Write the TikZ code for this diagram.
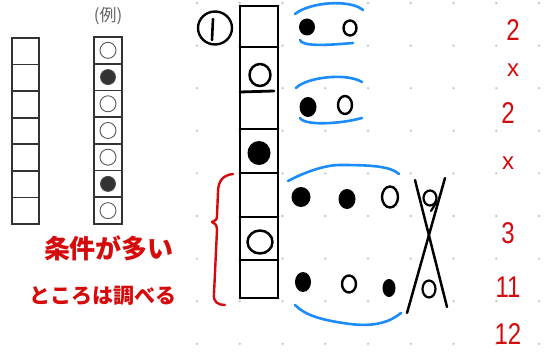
\documentclass[tikz,border=0pt]{standalone}
\usepackage{fontspec}
\usetikzlibrary{shapes.geometric}
\setmainfont{Liberation Sans}
\newfontfamily\cjk{Noto Sans CJK JP}
\definecolor{inkred}{RGB}{214,10,10}
\definecolor{inkblue}{RGB}{28,140,250}
\tikzset{
  gridpt/.style={fill=black!22},
  scanline/.style={draw=black!80, line width=1.6pt},
  exopen/.style={draw=black!65, line width=0.9pt},
  exfill/.style={fill=black!80, draw=black!70, line width=0.9pt},
  ink/.style={draw=black, line width=2.8pt, line cap=round, line join=round},
  inkdot/.style={fill=black},
  blueink/.style={draw=inkblue, line width=2.6pt, line cap=round},
  redink/.style={draw=inkred, line width=2.4pt, line cap=round, line join=round},
  rednum/.style={text=inkred, font=\fontsize{30}{30}\selectfont, inner sep=0pt, xscale=0.8},
  redx/.style={text=inkred, font=\fontsize{24}{24}\selectfont, inner sep=0pt},
  jtext/.style={text=inkred, inner sep=0pt}
}
\begin{document}
\begin{tikzpicture}[x=1pt,y=-1pt]
\useasboundingbox (0,0) rectangle (550,353);
\fill[white] (0,0) rectangle (550,353);
% dot grid
\foreach \i in {0,...,8}
  \foreach \j in {0,...,8}
    \fill[gridpt] ({197+42.75*\i},{3+42.6*\j}) circle (1.3pt);
% left empty column
\draw[scanline] (12,38) rectangle (39,224);
\foreach \k in {1,...,6}
  \draw[scanline] (12,{38+26.57*\k}) -- (39,{38+26.57*\k});
% example column
\node[text=black!60, font=\cjk\fontsize{17}{17}\selectfont, inner sep=0pt] (rei) at (108,16) {(例)};
\draw[scanline] (94,37) rectangle (122,224);
\foreach \k in {1,...,6}
  \draw[scanline] (94,{37+26.71*\k}) -- (122,{37+26.71*\k});
\foreach \k in {0,2,3,4,6}
  \draw[exopen] (108,{37+26.71*(\k+0.5)}) circle (8pt);
\foreach \k in {1,5}
  \draw[exfill] (108,{37+26.71*(\k+0.5)}) circle (7.5pt);
% circled 1
\node[ink, line width=2.4pt, ellipse, minimum width=34pt, minimum height=33pt, inner sep=0pt] (one) at (215,28) {};
\draw[ink, line width=2.6pt] (213,19) -- (212,40);
% main column
\draw[ink] (240,6) -- (240,298);
\draw[ink] (278,6) -- (278,298);
\foreach \yy in {6,47,129,173,217,260,298}
  \draw[ink] (240,\yy) -- (278,\yy);
\draw[ink] (240,92) -- (274,91);
\draw[ink, line width=2.5pt] (260,75) ellipse [x radius=10.5pt, y radius=11pt];
\fill[inkdot] (259,153) ellipse [x radius=11.5pt, y radius=12pt];
\draw[ink, line width=2.5pt] (260,242) ellipse [x radius=12.5pt, y radius=11.5pt];
% group 1
\draw[blueink] (295,14) .. controls (310,2) and (350,-1) .. (363,10);
\draw[blueink] (300,40) .. controls (302,47) and (330,45) .. (353,43);
\fill[inkdot] (307,27) ellipse [x radius=8pt, y radius=8.5pt];
\draw[ink, line width=2.4pt] (350,28) ellipse [x radius=6.5pt, y radius=7.5pt];
% group 2
\draw[blueink] (296,88) .. controls (305,78) and (345,72) .. (362,82);
\draw[blueink] (300,118) .. controls (305,126) and (340,124) .. (362,118);
\fill[inkdot] (308,107) ellipse [x radius=8.5pt, y radius=10pt];
\draw[ink, line width=2.4pt] (345,105) ellipse [x radius=7pt, y radius=9pt];
% group 3
\draw[blueink] (288,181) .. controls (305,172) and (325,165) .. (340,165)
   .. controls (370,165) and (390,166) .. (399,174);
\draw[blueink] (295,305) .. controls (305,315) and (320,320) .. (350,324)
   .. controls (375,327) and (390,322) .. (401,313);
\fill[inkdot] (301,197) ellipse [x radius=9.5pt, y radius=10pt];
\fill[inkdot] (347,199) ellipse [x radius=8.5pt, y radius=10pt];
\draw[ink, line width=2.4pt] (390,197) ellipse [x radius=8pt, y radius=10.5pt];
\fill[inkdot] (303,282) ellipse [x radius=8pt, y radius=10pt];
\draw[ink, line width=2.4pt] (349,284) ellipse [x radius=7pt, y radius=8.5pt];
\fill[inkdot] (389,288) ellipse [x radius=6.5pt, y radius=9pt];
% crossed column
\draw[ink, line width=2.2pt] (430,198) ellipse [x radius=6.5pt, y radius=7.5pt];
\draw[ink, line width=2.2pt] (436,203) -- (431,211);
\draw[ink, line width=2.2pt] (429,289) ellipse [x radius=6.5pt, y radius=8.5pt];
\draw[ink, line width=2.5pt] (415,180) -- (447,307);
\draw[ink, line width=2.5pt] (445,178) -- (407,313);
% red brace
\draw[redink] (233,174) .. controls (224,175) and (218,180) .. (218,192)
  -- (217,216) .. controls (217,220) and (215,221) .. (212,222)
  .. controls (215,223) and (217,225) .. (217,230)
  -- (214,294) .. controls (213,302) and (218,305) .. (225,305);
% red numbers
\node[rednum] (n1) at (513,30) {2};
\node[redx] (x1) at (513,70) {x};
\node[rednum] (n2) at (508,113) {2};
\node[redx] (x2) at (508,163) {x};
\node[rednum] (n3) at (508,233) {3};
\node[rednum] (n4) at (508,287) {11};
\node[rednum] (n5) at (508,334) {12};
% red japanese text
\node[jtext, font=\cjk\bfseries\fontsize{26}{26}\selectfont] (t1) at (109,248) {条件が多い};
\node[jtext, font=\cjk\bfseries\fontsize{21}{21}\selectfont] (t2) at (103,296) {ところは調べる};
\end{tikzpicture}
\end{document}
